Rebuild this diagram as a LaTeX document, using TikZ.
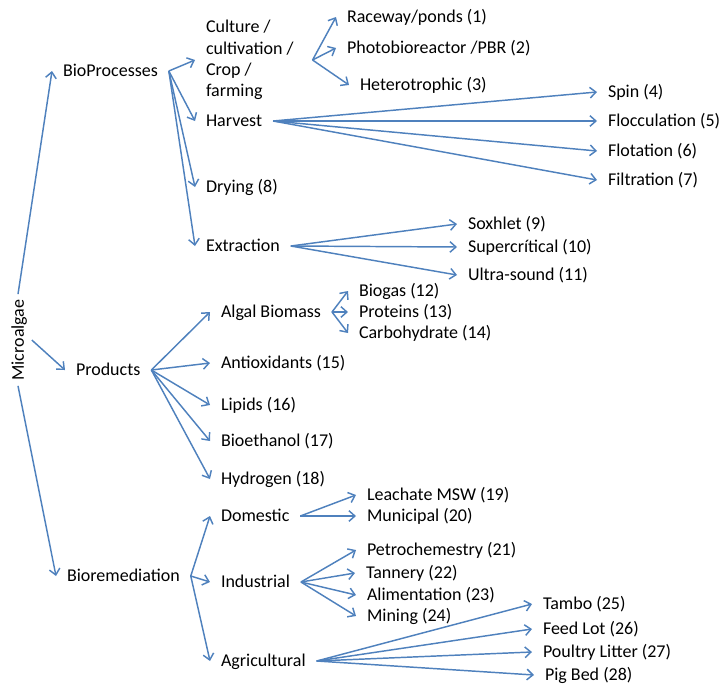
\documentclass[tikz,border=0pt]{standalone}
\usepackage{fontspec}
\setmainfont{Carlito}
\usetikzlibrary{arrows.meta}

\definecolor{algblue}{HTML}{4F81BD}

\tikzset{
  base/.style={inner sep=0pt, outer xsep=8.25pt, font=\fontsize{13.5}{16}\selectfont},
  lbl/.style={base, anchor=west, xshift=-8.25pt, text height=8.7pt, text depth=0pt},
  mlbl/.style={base, anchor=west, xshift=-8.25pt, align=left},
  arr/.style={draw=algblue, line width=1.1pt, -{Straight Barb[length=4.5pt,width=8pt]}}
}

\begin{document}
\begin{tikzpicture}[x=0.75pt, y=-0.75pt]

    \useasboundingbox (0,0) rectangle (721,686);

    % the root
    \node[base, rotate=90, outer xsep=4pt, outer ysep=6pt, text height=8.7pt, text depth=0pt] (micro) at (18,340) {Microalgae};

    % first level
    \node[lbl] (bio) at (63,71) {BioProcesses};
    \node[lbl] (prod) at (76,370) {Products};
    \node[lbl] (biorem) at (67,576) {Bioremediation};

    % bioprocesses
    \node[mlbl] (cult) at (206,60) {Culture /\\cultivation /\\Crop /\\farming};
    \node[lbl] (harv) at (206,121) {Harvest};
    \node[lbl] (dry) at (206,187) {Drying (8)};
    \node[lbl] (extr) at (206,246) {Extraction};

    \node[lbl] (race) at (347,17) {Raceway/ponds (1)};
    \node[lbl] (photo) at (347,48) {Photobioreactor /PBR (2)};
    \node[lbl] (hetero) at (360,85) {Heterotrophic (3)};

    \node[lbl] (spin) at (608,92) {Spin (4)};
    \node[lbl] (flocc) at (608,121) {Flocculation (5)};
    \node[lbl] (flot) at (608,151) {Flotation (6)};
    \node[lbl] (filt) at (608,180) {Filtration (7)};

    \node[lbl] (soxh) at (468,224) {Soxhlet (9)};
    \node[lbl] (superc) at (468,247) {Supercrítical (10)};
    \node[lbl] (ultra) at (468,275) {Ultra-sound (11)};

    % products
    \node[lbl] (algal) at (221,312) {Algal Biomass};
    \node[lbl] (antiox) at (221,363) {Antioxidants (15)};
    \node[lbl] (lipids) at (221,405) {Lipids (16)};
    \node[lbl] (bioeth) at (221,441) {Bioethanol (17)};
    \node[lbl] (hydro) at (221,479) {Hydrogen (18)};

    \node[lbl] (biogas) at (359,291) {Biogas (12)};
    \node[lbl] (prot) at (359,312) {Proteins (13)};
    \node[lbl] (carbo) at (359,333) {Carbohydrate (14)};

    % bioremediation
    \node[lbl] (dom) at (221,516) {Domestic};
    \node[lbl] (ind) at (221,582) {Industrial};
    \node[lbl] (agri) at (221,661) {Agricultural};

    \node[lbl] (leach) at (367,495) {Leachate MSW (19)};
    \node[lbl] (munic) at (367,516) {Municipal (20)};
    \node[lbl] (petro) at (367,550) {Petrochemestry (21)};
    \node[lbl] (tann) at (366,573) {Tannery (22)};
    \node[lbl] (alim) at (367,595) {Alimentation (23)};
    \node[lbl] (mining) at (367,616) {Mining (24)};

    \node[lbl] (tambo) at (543,604) {Tambo (25)};
    \node[lbl] (feed) at (543,629) {Feed Lot (26)};
    \node[lbl] (poult) at (543,652) {Poultry Litter (27)};
    \node[lbl] (pig) at (545,675) {Pig Bed (28)};

    % these are the arrows
    \draw[arr] (micro.east) -- (bio.west);
    \draw[arr] (micro.south) -- (prod.west);
    \draw[arr] (micro.west) -- (biorem.west);

    \draw[arr] (bio.east) -- (cult.west);
    \draw[arr] (bio.east) -- (harv.west);
    \draw[arr] (bio.east) -- (dry.west);
    \draw[arr] (bio.east) -- (extr.west);

    \draw[arr] ([xshift=6pt]cult.east) -- (race.west);
    \draw[arr] ([xshift=6pt]cult.east) -- (photo.west);
    \draw[arr] ([xshift=6pt]cult.east) -- (hetero.west);

    \draw[arr] (harv.east) -- (spin.west);
    \draw[arr] (harv.east) -- (flocc.west);
    \draw[arr] (harv.east) -- (flot.west);
    \draw[arr] (harv.east) -- (filt.west);

    \draw[arr] (extr.east) -- (soxh.west);
    \draw[arr] (extr.east) -- (superc.west);
    \draw[arr] (extr.east) -- (ultra.west);

    \draw[arr] (prod.east) -- (algal.west);
    \draw[arr] (prod.east) -- (antiox.west);
    \draw[arr] (prod.east) -- (lipids.west);
    \draw[arr] (prod.east) -- (bioeth.west);
    \draw[arr] (prod.east) -- (hydro.west);

    \draw[arr] (algal.east) -- (biogas.west);
    \draw[arr] (algal.east) -- (prot.west);
    \draw[arr] (algal.east) -- (carbo.west);

    \draw[arr] (biorem.east) -- (dom.west);
    \draw[arr] (biorem.east) -- (ind.west);
    \draw[arr] (biorem.east) -- (agri.west);

    \draw[arr] (dom.east) -- (leach.west);
    \draw[arr] (dom.east) -- (munic.west);

    \draw[arr] (ind.east) -- (petro.west);
    \draw[arr] (ind.east) -- (tann.west);
    \draw[arr] (ind.east) -- (alim.west);
    \draw[arr] (ind.east) -- (mining.west);

    \draw[arr] (agri.east) -- (tambo.west);
    \draw[arr] (agri.east) -- (feed.west);
    \draw[arr] (agri.east) -- (poult.west);
    \draw[arr] (agri.east) -- (pig.west);

\end{tikzpicture}
\end{document}
